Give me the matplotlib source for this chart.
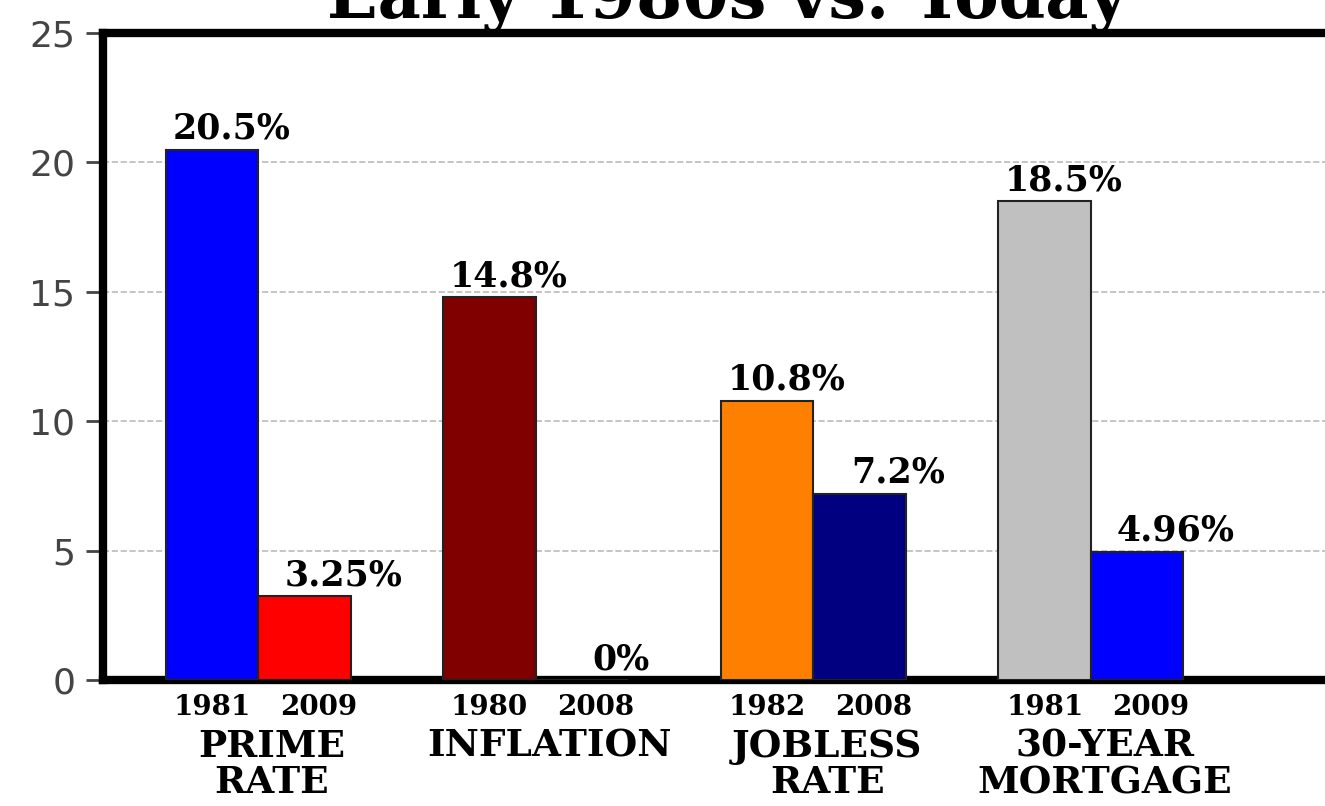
import matplotlib.pyplot as plt
import numpy as np

categories = ["PRIME\nRATE", "INFLATION", "JOBLESS\nRATE", "30-YEAR\nMORTGAGE"]
years_then = ["1981", "1980", "1982", "1981"]
years_now = ["2009", "2008", "2008", "2009"]
values_then = [20.5, 14.8, 10.8, 18.5]
values_now = [3.25, 0, 7.2, 4.96]
labels_then = ["20.5%", "14.8%", "10.8%", "18.5%"]
labels_now = ["3.25%", "0%", "7.2%", "4.96%"]
colors_then = ["#0000FF", "#800000", "#FF8000", "#C0C0C0"]
colors_now = ["#FF0000", "#800000", "#000080", "#0000FF"]

fig = plt.figure(figsize=(13.25, 8.06), dpi=100)
ax = fig.add_axes([0.0777, 0.1563, 0.934, 0.8027])

x = np.arange(len(categories))
w = 0.333
serif = "DejaVu Serif"

ax.bar(x - w / 2, values_then, w, color=colors_then, edgecolor="#222222", linewidth=1.5, zorder=3)
ax.bar(x + w / 2, values_now, w, color=colors_now, edgecolor="#222222", linewidth=1.5, zorder=3)

# value labels, shifted a bit right like the original
for i in range(len(categories)):
    ax.text(x[i] - w / 2 + 0.07, values_then[i] + 0.15, labels_then[i], ha="center", va="bottom",
            fontsize=25, fontweight="bold", family=serif, zorder=4)
    ax.text(x[i] + w / 2 + 0.14, values_now[i] + 0.15, labels_now[i], ha="center", va="bottom",
            fontsize=25, fontweight="bold", family=serif, zorder=4)

ax.set_xlim(-0.559, 3.899)
ax.set_ylim(0, 25)
ax.set_yticks([0, 5, 10, 15, 20, 25])
ax.tick_params(axis="y", labelsize=26, length=12, width=2, pad=8, colors="#444444")

ticks = np.concatenate([x - w / 2 + 0.0, x + w / 2 + 0.05])
ticklabels = years_then + years_now
ax.set_xticks(ticks)
ax.set_xticklabels(ticklabels, fontsize=20, fontweight="bold", family=serif)
ax.tick_params(axis="x", length=0, pad=10)

for i, c in enumerate(categories):
    ax.text(x[i] + 0.05, -0.074, c, transform=ax.get_xaxis_transform(), ha="center", va="top",
            fontsize=27, fontweight="bold", family=serif, linespacing=0.98)

ax.grid(axis="y", linestyle="--", color="#BBBBBB", linewidth=1.2, zorder=0)
for s in ["left", "bottom", "top", "right"]:
    ax.spines[s].set_linewidth(6)
    ax.spines[s].set_color("black")

fig.text(0.549, 0.978, "Early 1980s vs. Today", ha="center", va="baseline",
         fontsize=48, fontweight="bold", family=serif)

fig.savefig("out.png", dpi=100)
